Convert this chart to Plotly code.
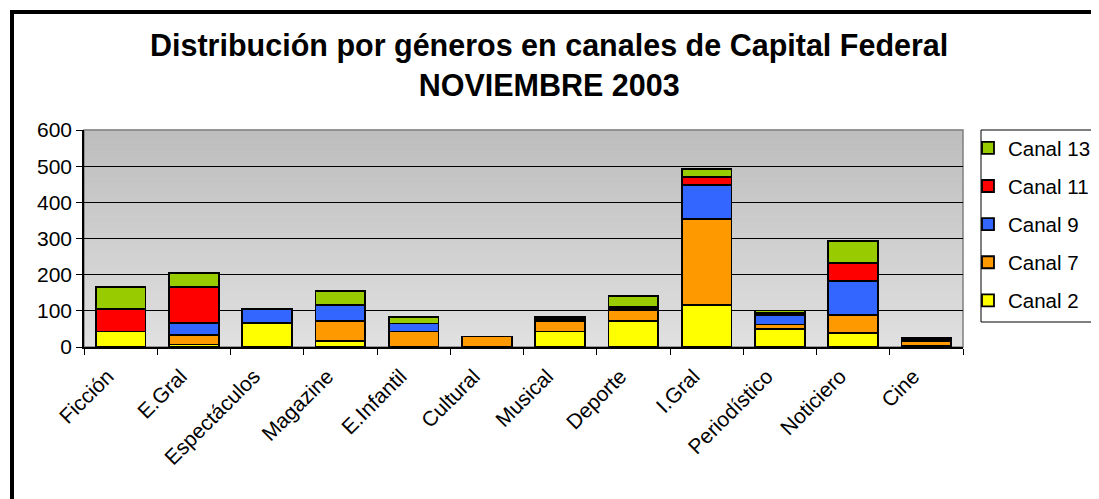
import plotly.graph_objects as go

generos = ["Ficción", "E.Gral", "Espectáculos", "Magazine", "E.Infantil", "Cultural",
           "Musical", "Deporte", "I.Gral", "Periodístico", "Noticiero", "Cine"]
canal2 = [43, 7, 66, 17, 0, 0, 43, 72, 117, 50, 39, 2]
canal7 = [0, 26, 0, 55, 43, 29, 28, 31, 236, 12, 49, 14]
canal9 = [0, 33, 40, 45, 22, 0, 4, 3, 94, 27, 95, 3]
canal11 = [62, 101, 0, 0, 0, 0, 4, 4, 22, 6, 49, 2]
canal13 = [62, 38, 0, 38, 18, 0, 5, 30, 23, 6, 62, 3]

series = [("Canal 2", canal2, "#FFFF00"),
          ("Canal 7", canal7, "#FF9900"),
          ("Canal 9", canal9, "#3366FF"),
          ("Canal 11", canal11, "#FF0000"),
          ("Canal 13", canal13, "#99CC00")]

W, H = 1099, 499
OFF = 8  # page body margin
L, R, T, B = 76, 144, 122, 160
pw, ph = W - L - R, H - T - B

# screen pixel -> paper coords
def px(x):
    return (x - OFF - L) / pw

def py(y):
    return (H - B - (y - OFF)) / ph

fig = go.Figure()
for k, (name, vals, col) in enumerate(series):
    fig.add_trace(go.Bar(x=generos, y=vals, name=name, legendgroup=name,
                         legendrank=len(series) - k,
                         marker=dict(color=col, line=dict(color="black", width=1.8))))

shapes = []
# background gradient of the plot area
n = 40
for i in range(n):
    g = int(224 - (224 - 190) * i / (n - 1))
    shapes.append(dict(type="rect", xref="paper", yref="paper", x0=0, x1=1,
                       y0=i / n, y1=(i + 1) / n + 0.002, layer="below",
                       line=dict(width=0), fillcolor=f"rgb({g},{g},{g})"))
# grey plot frame
shapes.append(dict(type="rect", xref="paper", yref="paper", x0=0, x1=1, y0=0, y1=1,
                   layer="below", line=dict(color="#808080", width=1.5)))
# outer chart border (top and left)
shapes.append(dict(type="line", xref="paper", yref="paper", x0=px(10), x1=px(1120),
                   y0=py(12), y1=py(12), line=dict(color="black", width=4)))
shapes.append(dict(type="line", xref="paper", yref="paper", x0=px(12), x1=px(12),
                   y0=py(10), y1=py(520), line=dict(color="black", width=4)))
# legend frame
shapes.append(dict(type="rect", xref="paper", yref="paper", x0=px(981), x1=px(1120),
                   y0=py(322), y1=py(130), layer="below", fillcolor="white",
                   line=dict(color="black", width=1)))

fig.add_annotation(text="<b>Distribución por géneros en canales de Capital Federal<br>NOVIEMBRE 2003</b>",
                   xref="paper", yref="paper", x=px(549), y=py(26),
                   xanchor="center", yanchor="top", showarrow=False,
                   font=dict(size=30.5, color="black"))

fig.update_layout(
    width=W, height=H,
    margin=dict(l=L, r=R, t=T, b=B, autoexpand=False),
    barmode="stack", bargap=0.32,
    paper_bgcolor="white", plot_bgcolor="#d8d8d8",
    font=dict(family="Liberation Sans, Arial, sans-serif", size=21, color="black"),
    legend=dict(xref="container", yref="container", x=(968 - OFF) / W, xanchor="left",
                y=1 - (128 - OFF) / H, yanchor="top",
                traceorder="grouped", tracegroupgap=8.5,
                bgcolor="rgba(0,0,0,0)", borderwidth=0,
                font=dict(size=20.5)),
    shapes=shapes,
    showlegend=True,
)
fig.update_xaxes(type="category", tickangle=-45, tickson="boundaries", ticks="outside",
                 ticklen=6, tickcolor="black", showline=True, linecolor="black",
                 linewidth=1.5, showgrid=False, tickfont=dict(size=21),
                 ticklabelshift=-13, ticklabelstandoff=7)
fig.update_yaxes(range=[0, 600], dtick=100, ticks="outside", ticklen=6, tickcolor="black",
                 showline=True, linecolor="black", linewidth=1.5, showgrid=True,
                 gridcolor="black", gridwidth=1, zeroline=False, tickfont=dict(size=21))

fig.write_html("out.html")
